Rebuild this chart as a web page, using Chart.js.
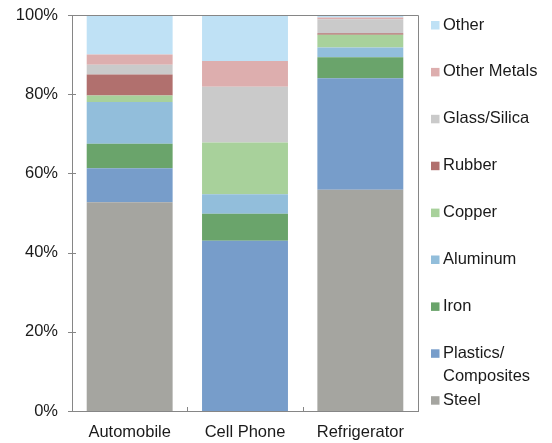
<!DOCTYPE html>
<html>
<head>
<meta charset="utf-8">
<script src="https://cdn.jsdelivr.net/npm/chart.js@4/dist/chart.umd.min.js"></script>
<style>
  html, body { margin: 0; padding: 0; background: #fff; }
  #wrap { width: 552px; height: 443px; }
</style>
</head>
<body>
<div id="wrap"><canvas id="chart"></canvas></div>
<script>
const categories = ["Automobile", "Cell Phone", "Refrigerator"]
const yTicks = [0, 20, 40, 60, 80, 100]

// share of each material, bottom to top
const steel = [52.7, 0, 55.9]
const plastics = [8.6, 43.0, 28.1]
const iron = [6.2, 6.8, 5.3]
const aluminum = [10.5, 4.95, 2.5]
const copper = [1.65, 13.05, 3.2]
const rubber = [5.35, 0, 0.4]
const glass = [2.45, 14.05, 3.5]
const otherMetals = [2.55, 6.55, 0.5]
const other = [9.95, 11.6, 0.6]

const series = [
    { label: "Steel", data: steel, color: "#a5a5a0" },
    { label: ["Plastics/", "Composites"], data: plastics, color: "#779dca" },
    { label: "Iron", data: iron, color: "#6aa46b" },
    { label: "Aluminum", data: aluminum, color: "#92bedb" },
    { label: "Copper", data: copper, color: "#a8d19b" },
    { label: "Rubber", data: rubber, color: "#b1706e" },
    { label: "Glass/Silica", data: glass, color: "#cacaca" },
    { label: "Other Metals", data: otherMetals, color: "#ddaeae" },
    { label: "Other", data: other, color: "#bfe1f5" }
]

const FONT = "'Liberation Sans', Arial, sans-serif"
const SIZE = 16.5
const AXIS = "#868686"

// frame, tick marks and the legend on the right
const extras = {
    id: "extras",
    afterDraw(chart) {
        const ctx = chart.ctx
        const a = chart.chartArea
        const x = chart.scales.x
        const y = chart.scales.y
        ctx.save()
        ctx.strokeStyle = AXIS
        ctx.lineWidth = 1
        ctx.beginPath()
        ctx.moveTo(a.left - 4, Math.round(a.top) + 0.5)
        ctx.lineTo(Math.round(a.right) + 0.5, Math.round(a.top) + 0.5)
        ctx.lineTo(Math.round(a.right) + 0.5, a.bottom)
        yTicks.forEach(v => {
            const py = Math.round(y.getPixelForValue(v)) + 0.5
            ctx.moveTo(a.left - 4, py)
            ctx.lineTo(a.left + 4, py)
        })
        for (let i = 1; i < categories.length; i++) {
            const px = Math.round((x.getPixelForValue(i - 1) + x.getPixelForValue(i)) / 2) + 0.5
            ctx.moveTo(px, a.bottom)
            ctx.lineTo(px, a.bottom - 4)
        }
        ctx.stroke()

        ctx.font = SIZE + "px " + FONT
        ctx.textBaseline = "middle"
        ctx.textAlign = "left"
        const items = series.slice().reverse()
        const step = 46.9
        items.forEach((s, i) => {
            const cy = a.top + 10 + i * step
            ctx.fillStyle = s.color
            ctx.fillRect(431, cy - 4, 8.5, 8.5)
            ctx.fillStyle = "#1a1a1a"
            const lines = Array.isArray(s.label) ? s.label : [s.label]
            lines.forEach((t, j) => ctx.fillText(t, 443, cy + j * 23.5))
        })
        ctx.restore()
    }
}

new Chart(document.getElementById("chart"), {
    type: "bar",
    data: {
        labels: categories,
        datasets: series.map(s => ({
            label: s.label,
            data: s.data,
            backgroundColor: s.color,
            borderWidth: 0,
            categoryPercentage: 1,
            barPercentage: 0.745
        }))
    },
    options: {
        responsive: true,
        maintainAspectRatio: false,
        animation: false,
        layout: { padding: { top: 15, right: 134, left: 0, bottom: 0 } },
        plugins: { legend: { display: false }, tooltip: { enabled: false } },
        scales: {
            x: {
                stacked: true,
                grid: { display: false, drawTicks: false },
                border: { display: true, color: AXIS },
                ticks: { color: "#1a1a1a", font: { family: FONT, size: SIZE }, padding: 12 },
                afterFit: s => { s.height = 32; s.paddingLeft = 0; s.paddingRight = 0 }
            },
            y: {
                stacked: true,
                min: 0,
                max: 100,
                afterBuildTicks: s => { s.ticks = yTicks.map(v => ({ value: v })) },
                grid: { display: false, drawTicks: false },
                border: { display: true, color: AXIS },
                ticks: {
                    color: "#1a1a1a",
                    font: { family: FONT, size: SIZE },
                    padding: 14,
                    callback: v => v + "%"
                },
                afterFit: s => { s.width = 72; s.paddingTop = 0; s.paddingBottom = 0 }
            }
        }
    },
    plugins: [extras]
})
</script>
</body>
</html>
